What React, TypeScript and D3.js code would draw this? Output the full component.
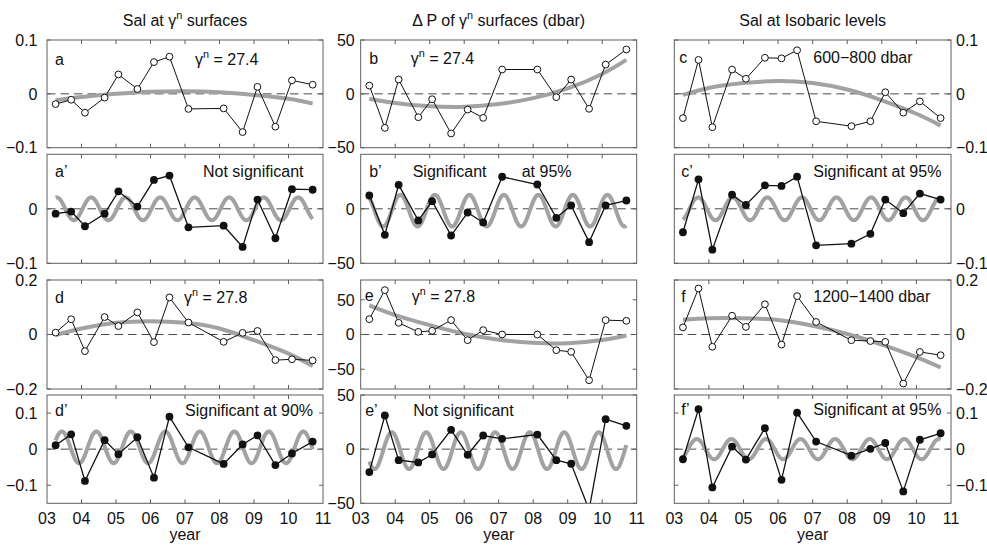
import React from "react";
import * as d3 from "d3";

// Sampling times (decimal years) shared by every series
const sampleYears = [2003.25, 2003.7, 2004.1, 2004.67, 2005.07, 2005.62, 2006.1, 2006.55, 2007.1, 2008.12, 2008.67, 2009.1, 2009.62, 2010.1, 2010.7];
// Times at which the fitted long-term trends are tabulated
const trendYears = [2003.25, 2004, 2005, 2006, 2007, 2008, 2009, 2010, 2010.7];

const xTicks = [2003, 2004, 2005, 2006, 2007, 2008, 2009, 2010, 2011];
const xTickLabels = ["03", "04", "05", "06", "07", "08", "09", "10", "11"];

const columnTitles = ["Sal at γ|n| surfaces", "Δ P of γ|n| surfaces (dbar)", "Sal at Isobaric levels"];

// Salinity on neutral surface 27.4 and its detrended anomaly
const salG274 = [-0.019, -0.011, -0.035, -0.007, 0.036, 0.009, 0.059, 0.069, -0.028, -0.027, -0.071, 0.013, -0.061, 0.025, 0.017];
const salG274Anom = [-0.009, -0.005, -0.032, -0.009, 0.032, 0.004, 0.053, 0.061, -0.034, -0.031, -0.070, 0.017, -0.054, 0.036, 0.035];
const salG274Trend = [-0.012, -0.006, 0.0, 0.004, 0.005, 0.003, -0.002, -0.009, -0.018];

// Salinity on neutral surface 27.8
const salG278 = [0.007, 0.056, -0.061, 0.064, 0.031, 0.081, -0.028, 0.136, 0.044, -0.027, 0.006, 0.013, -0.094, -0.091, -0.095];
const salG278Anom = [0.011, 0.041, -0.088, 0.025, -0.014, 0.033, -0.079, 0.090, 0.005, -0.041, 0.013, 0.038, -0.044, -0.012, 0.021];
const salG278Trend = [-0.002, 0.022, 0.043, 0.049, 0.043, 0.022, -0.021, -0.070, -0.116];

// Pressure change of neutral surface 27.4 (dbar)
const dpG274 = [7.7, -31.6, 13.3, -21.7, -5.0, -36.8, -14.6, -22.3, 22.6, 22.6, -3.1, 13.3, -13.9, 27.2, 41.2];
const dpG274Anom = [12.2, -23.9, 22.0, -10.7, 7.0, -24.5, -3.4, -12.5, 29.4, 22.3, -8.3, 3.1, -30.6, 3.1, 7.6];
const dpG274Trend = [-4.5, -8.5, -11.5, -12, -9.5, -4, 5, 18.5, 31.5];

// Pressure change of neutral surface 27.8 (dbar)
const dpG278 = [22.1, 63.9, 16.8, 3.8, 5.3, 20.7, -8.2, 6.3, 0, 0, -22.6, -25.0, -65.9, 20.7, 19.7];
const dpG278Anom = [-21.2, 31.1, -10.2, -12.3, -4.9, 17.8, -5.2, 12.6, 9.5, 13.5, -10.2, -13.5, -56, 27.7, 21.5];
const dpG278Trend = [42, 28, 13.5, 1, -7.5, -12, -12.5, -8, -1.5];

// Salinity averaged over 600-800 dbar
const salP600 = [-0.045, 0.063, -0.062, 0.045, 0.028, 0.067, 0.066, 0.081, -0.051, -0.060, -0.051, 0.003, -0.035, -0.014, -0.045];
const salP600Anom = [-0.043, 0.054, -0.075, 0.026, 0.007, 0.043, 0.042, 0.059, -0.067, -0.064, -0.046, 0.017, -0.008, 0.028, 0.017];
const salP600Trend = [-0.002, 0.011, 0.020, 0.024, 0.020, 0.008, -0.012, -0.037, -0.059];

// Salinity averaged over 1200-1400 dbar
const salP1200 = [0.026, 0.169, -0.045, 0.069, 0.028, 0.111, -0.037, 0.141, 0.046, -0.021, -0.024, -0.027, -0.180, -0.064, -0.076];
const salP1200Anom = [-0.028, 0.111, -0.106, 0.007, -0.029, 0.058, -0.085, 0.101, 0.021, -0.018, 0.001, 0.017, -0.117, 0.026, 0.044];
const salP1200Trend = [0.054, 0.060, 0.060, 0.053, 0.032, 0.002, -0.037, -0.083, -0.121];

// Fitted annual harmonics of the anomalies: amplitude, time of maximum (fraction of year), mean
const harmonicAmp = { a: 0.021, b: 14.5, c: 0.021, d: 0.044, e: 17, f: 0.028 };
const harmonicPeak = { a: 0.28, b: 0.15, c: 0.69, d: 0.43, e: 0.9, f: 0.65 };
const harmonicMean = { a: 0, b: -1.7, c: 0, d: 0.005, e: -1.4, f: 0 };

// Y ranges and ticks
const salRange1 = [-0.1, 0.1];
const salRange2 = [-0.2, 0.2];
const anomRange2 = [-0.15, 0.15];
const dpRange1 = [-50, 50];
const dpRange2 = [-78.5, 78.5];
const ticksSal1 = [-0.1, 0, 0.1];
const ticksSal1Low = [-0.1, 0];
const ticksSal2 = [-0.2, 0, 0.2];
const ticksDp = [-50, 0, 50];
const ticksDpLow = [-50, 0];

// Layout
const colX = [[47, 323], [360.7, 636.7], [674.3, 951]];
const rowY = [[40, 147.7], [154.3, 263.3], [280, 389], [395, 503.3]];
const FONT = "'Liberation Sans', Arial, Helvetica, sans-serif";
const INK = "#111";
const AXIS = "#5e5e5e";
const GRAY = "#a2a2a2";

type Note = { text: string; dx: number; dy: number };
type PanelSpec = {
  id: string;
  col: number;
  row: number;
  values: number[];
  domain: number[];
  ticks: number[];
  filled: boolean;
  trend?: number[];
  harmonic?: string;
  notes: Note[];
};

const panels: PanelSpec[] = [
  { id: "a", col: 0, row: 0, values: salG274, domain: salRange1, ticks: ticksSal1, filled: false, trend: salG274Trend,
    notes: [{ text: "a", dx: 8, dy: 25 }, { text: "γ|n| = 27.4", dx: 148, dy: 25 }] },
  { id: "a2", col: 0, row: 1, values: salG274Anom, domain: salRange1, ticks: ticksSal1Low, filled: true, harmonic: "a",
    notes: [{ text: "a’", dx: 8, dy: 23 }, { text: "Not significant", dx: 156, dy: 23 }] },
  { id: "d", col: 0, row: 2, values: salG278, domain: salRange2, ticks: ticksSal2, filled: false, trend: salG278Trend,
    notes: [{ text: "d", dx: 8, dy: 23 }, { text: "γ|n| = 27.8", dx: 137, dy: 23 }] },
  { id: "d2", col: 0, row: 3, values: salG278Anom, domain: anomRange2, ticks: ticksSal1, filled: true, harmonic: "d",
    notes: [{ text: "d’", dx: 8, dy: 21 }, { text: "Significant at 90%", dx: 138, dy: 21 }] },
  { id: "b", col: 1, row: 0, values: dpG274, domain: dpRange1, ticks: ticksDp, filled: false, trend: dpG274Trend,
    notes: [{ text: "b", dx: 8.5, dy: 24 }, { text: "γ|n| = 27.4", dx: 50, dy: 24 }] },
  { id: "b2", col: 1, row: 1, values: dpG274Anom, domain: dpRange1, ticks: ticksDpLow, filled: true, harmonic: "b",
    notes: [{ text: "b’", dx: 8.5, dy: 23 }, { text: "Significant", dx: 52, dy: 23 }, { text: "at 95%", dx: 161, dy: 23 }] },
  { id: "e", col: 1, row: 2, values: dpG278, domain: dpRange2, ticks: ticksDp, filled: false, trend: dpG278Trend,
    notes: [{ text: "e", dx: 4, dy: 21 }, { text: "γ|n| = 27.8", dx: 51, dy: 22 }] },
  { id: "e2", col: 1, row: 3, values: dpG278Anom, domain: dpRange1, ticks: ticksDp, filled: true, harmonic: "e",
    notes: [{ text: "e’", dx: 4.5, dy: 21 }, { text: "Not significant", dx: 52.5, dy: 21 }] },
  { id: "c", col: 2, row: 0, values: salP600, domain: salRange1, ticks: ticksSal1, filled: false, trend: salP600Trend,
    notes: [{ text: "c", dx: 5, dy: 23 }, { text: "600−800 dbar", dx: 139, dy: 23 }] },
  { id: "c2", col: 2, row: 1, values: salP600Anom, domain: salRange1, ticks: ticksSal1Low, filled: true, harmonic: "c",
    notes: [{ text: "c’", dx: 7, dy: 23 }, { text: "Significant at 95%", dx: 139, dy: 23 }] },
  { id: "f", col: 2, row: 2, values: salP1200, domain: salRange2, ticks: ticksSal2, filled: false, trend: salP1200Trend,
    notes: [{ text: "f", dx: 7, dy: 22 }, { text: "1200−1400 dbar", dx: 139, dy: 22 }] },
  { id: "f2", col: 2, row: 3, values: salP1200Anom, domain: anomRange2, ticks: ticksSal1, filled: true, harmonic: "f",
    notes: [{ text: "f’", dx: 7, dy: 20 }, { text: "Significant at 95%", dx: 139, dy: 20 }] },
];

const fmtTick = (v: number) => (v === 0 ? "0" : (v < 0 ? "−" : "") + String(Math.abs(v)));

// Renders text where |n| marks a superscript
function RichText({ text, size }: { text: string; size: number }) {
  const parts = text.split("|");
  const out: React.ReactNode[] = [];
  parts.forEach((part, i) => {
    if (i % 2 === 1) {
      out.push(<tspan key={i} dy={-7} fontSize={size * 0.68}>{part}</tspan>);
    } else {
      out.push(<tspan key={i} dy={i > 0 ? 7 : 0}>{part}</tspan>);
    }
  });
  return <>{out}</>;
}

function Panel({ p }: { p: PanelSpec }) {
  const [x0, x1] = colX[p.col];
  const [y0, y1] = rowY[p.row];
  const x = d3.scaleLinear().domain([xTicks[0], xTicks[xTicks.length - 1]]).range([x0, x1]);
  const y = d3.scaleLinear().domain(p.domain).range([y1, y0]);
  const line = d3.line<[number, number]>().x((d) => x(d[0])).y((d) => y(d[1]));
  const pts: [number, number][] = sampleYears.map((t, i) => [t, p.values[i]]);
  const clipId = `clip-${p.id}`;

  let grayPath: string | null = null;
  if (p.trend) {
    const tp: [number, number][] = trendYears.map((t, i) => [t, p.trend![i]]);
    grayPath = d3.line<[number, number]>().x((d) => x(d[0])).y((d) => y(d[1])).curve(d3.curveNatural)(tp);
  }
  if (p.harmonic) {
    const k = p.harmonic as keyof typeof harmonicAmp;
    const amp = harmonicAmp[k], peak = harmonicPeak[k], mean = harmonicMean[k];
    const t0 = sampleYears[0], t1 = sampleYears[sampleYears.length - 1];
    const ts = d3.range(t0, t1 + 1e-9, 0.01);
    grayPath = line(ts.map((t) => [t, mean + amp * Math.cos(2 * Math.PI * (t - peak))] as [number, number]));
  }

  const leftSide = p.col < 2;
  const labelGap = p.col === 0 ? 9.5 : 6;
  const [dMin, dMax] = p.domain;

  return (
    <g>
      <defs>
        <clipPath id={clipId}>
          <rect x={x0} y={y0} width={x1 - x0} height={y1 - y0} />
        </clipPath>
      </defs>
      <rect x={x0} y={y0} width={x1 - x0} height={y1 - y0} fill="#fff" />
      <g clipPath={`url(#${clipId})`}>
        <line x1={x0} x2={x1} y1={y(0)} y2={y(0)} stroke="#4a4a4a" strokeWidth={1} strokeDasharray="8.5 5" />
        {grayPath && <path d={grayPath} fill="none" stroke={GRAY} strokeWidth={4} />}
        <path d={line(pts) || ""} fill="none" stroke={INK} strokeWidth={p.filled ? 1.3 : 1} />
      </g>
      {pts
        .filter((d) => d[1] >= dMin && d[1] <= dMax)
        .map((d, i) =>
          p.filled ? (
            <circle key={i} cx={x(d[0])} cy={y(d[1])} r={3.9} fill={INK} />
          ) : (
            <circle key={i} cx={x(d[0])} cy={y(d[1])} r={3.4} fill="#fff" stroke={INK} strokeWidth={1} />
          )
        )}
      {/* tick marks, mirrored on both sides */}
      {xTicks.slice(1, -1).map((t) => (
        <g key={`xt${t}`} stroke={AXIS} strokeWidth={1}>
          <line x1={x(t)} x2={x(t)} y1={y1} y2={y1 - 4} />
          <line x1={x(t)} x2={x(t)} y1={y0} y2={y0 + 4} />
        </g>
      ))}
      {p.ticks.map((v) => (
        <g key={`yt${v}`} stroke={AXIS} strokeWidth={1}>
          <line x1={x0} x2={x0 + 4} y1={y(v)} y2={y(v)} />
          <line x1={x1} x2={x1 - 4} y1={y(v)} y2={y(v)} />
        </g>
      ))}
      <rect x={x0} y={y0} width={x1 - x0} height={y1 - y0} fill="none" stroke={AXIS} strokeWidth={1} />
      {p.ticks.map((v) => (
        <text
          key={`yl${v}`}
          x={leftSide ? x0 - labelGap : x1 + 5}
          y={y(v)}
          dy="0.36em"
          textAnchor={leftSide ? "end" : "start"}
          fontSize={16}
          fontFamily={FONT}
          fill={INK}
        >
          {fmtTick(v)}
        </text>
      ))}
      {p.notes.map((n, i) => (
        <text key={`n${i}`} x={x0 + n.dx} y={y0 + n.dy} fontSize={16} fontFamily={FONT} fill={INK}>
          <RichText text={n.text} size={16} />
        </text>
      ))}
      {p.row === 3 &&
        xTicks.map((t, i) => (
          <text key={`xl${t}`} x={x(t)} y={524} textAnchor="middle" fontSize={16} fontFamily={FONT} fill={INK}>
            {xTickLabels[i]}
          </text>
        ))}
      {p.row === 3 && (
        <text x={(x0 + x1) / 2} y={540} textAnchor="middle" fontSize={16} fontFamily={FONT} fill={INK}>
          year
        </text>
      )}
      {p.row === 0 && (
        <text x={(x0 + x1) / 2} y={26} textAnchor="middle" fontSize={16} fontFamily={FONT} fill={INK}>
          <RichText text={columnTitles[p.col]} size={16} />
        </text>
      )}
    </g>
  );
}

export default function App() {
  return (
    <svg
      width={987}
      height={548}
      viewBox="0 0 987 548"
      style={{ position: "absolute", left: 0, top: 0, display: "block" }}
    >
      <rect width={987} height={548} fill="#fff" />
      {panels.map((p) => (
        <Panel key={p.id} p={p} />
      ))}
    </svg>
  );
}
